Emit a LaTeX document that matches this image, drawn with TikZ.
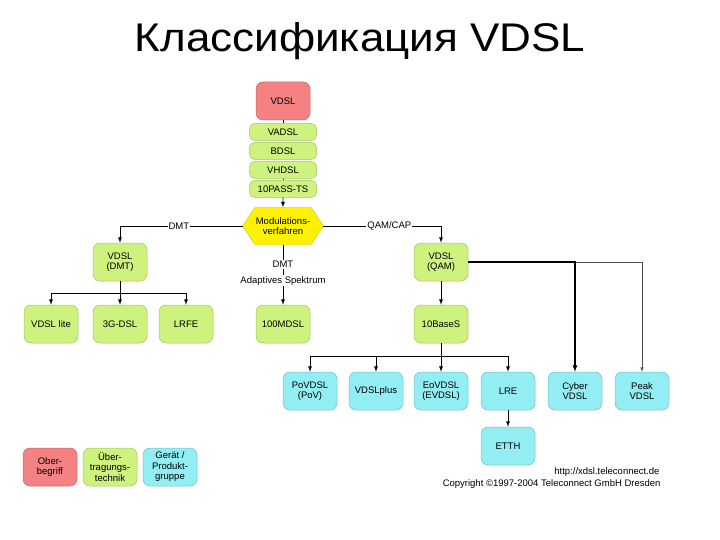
\documentclass[tikz,border=0pt]{standalone}
\usepackage{fontspec}
\setmainfont{Liberation Sans}
\usetikzlibrary{shapes.symbols}
\definecolor{rot}{HTML}{F48282}
\definecolor{gruen}{HTML}{CDF27E}
\definecolor{blau}{HTML}{92EEF3}
\definecolor{gelb}{HTML}{FFF200}

\begin{document}
\begin{tikzpicture}[x=1pt,y=-1pt,font=\fontsize{9.5}{10.5}\selectfont,
  box/.style={rounded corners=7pt,minimum width=54pt,minimum height=38pt,align=center,
    inner sep=1pt,draw=#1!80!black,fill=#1,line width=0.5pt},
  pill/.style={rounded corners=5pt,minimum width=67pt,minimum height=17pt,inner sep=1pt,
    draw=gruen!80!black,fill=gruen,line width=0.5pt},
  conn/.style={line width=0.9pt},
  lbl/.style={fill=white,inner sep=1pt}]

\useasboundingbox (0,0) rectangle (720,540);

\node[anchor=base,xscale=1.1] (titel) at (360,52) {\fontsize{40}{42}\selectfont Классификация VDSL};

\node[box=rot]   (vdsl)  at (283,101) {VDSL};
\node[pill]      (vadsl) at (283,132) {VADSL};
\node[pill]      (bdsl)  at (283,151) {BDSL};
\node[pill]      (vhdsl) at (283,170) {VHDSL};
\node[pill]      (pts)   at (283,189) {10PASS-TS};

\node[shape=signal,signal to=east and west,signal pointer angle=114,fill=gelb,draw=gelb!80!black,
  minimum width=80pt,minimum height=37pt,inner sep=1pt,align=center] (modv) at (283,226) {Modulations-\\verfahren};

\node[box=gruen] (vdmt)  at (120,262) {VDSL\\(DMT)};
\node[box=gruen] (vqam)  at (441,262) {VDSL\\(QAM)};

\node[box=gruen] (lite)  at (51,324)  {VDSL lite};
\node[box=gruen] (gdsl)  at (120,324) {3G-DSL};
\node[box=gruen] (lrfe)  at (186,324) {LRFE};
\node[box=gruen] (mdsl)  at (283,324) {100MDSL};
\node[box=gruen] (bases) at (441,324) {10BaseS};

\node[box=blau]  (povdsl) at (310,391) {PoVDSL\\(PoV)};
\node[box=blau]  (vplus)  at (376,391) {VDSLplus};
\node[box=blau]  (eovdsl) at (441,391) {EoVDSL\\(EVDSL)};
\node[box=blau]  (lre)    at (508,391) {LRE};
\node[box=blau]  (cyber)  at (575,391) {Cyber\\VDSL};
\node[box=blau]  (peak)   at (642,391) {Peak\\VDSL};
\node[box=blau]  (etth)   at (508,446) {ETTH};

\node[box=rot]   (ober)  at (50,467)  {Ober-\\begriff};
\node[box=gruen] (ueber) at (110,467) {Über-\\tragungs-\\technik};
\node[box=blau]  (geraet) at (170,467) {Gerät /\\Produkt-\\gruppe};

\node[anchor=base east] (url)  at (663,474) {http://xdsl.teleconnect.de};
\node[anchor=base east] (copy) at (664,486) {Copyright ©1997-2004 Teleconnect GmbH Dresden};

\draw[conn] (vdsl) -- (vadsl);
\draw[conn] (vhdsl) -- (pts);
\draw[conn,-latex] (pts) -- (modv);
\draw[conn,-latex] (modv.west) -| (vdmt.north) node[lbl,pos=0.26] {DMT};
\draw[conn,-latex] (modv.east) -| (vqam.north) node[lbl,pos=0.28] {QAM/CAP};
\draw[conn,-latex] (modv.south) -- (mdsl.north)
  node[lbl,pos=0.33] {DMT} node[lbl,pos=0.6] {Adaptives Spektrum};

\draw[conn] (vdmt.south) -- (120,293) coordinate (fdmt);
\draw[conn,-latex] (fdmt) -| (lite.north);
\draw[conn,-latex] (fdmt) -- (gdsl.north);
\draw[conn,-latex] (fdmt) -| (lrfe.north);

\draw[conn,-latex] (vqam) -- (bases);
\draw[conn] (bases.south) -- (441,356) coordinate (fqam);
\draw[conn,-latex] (fqam) -| (povdsl.north);
\draw[conn,-latex] (fqam) -| (vplus.north);
\draw[conn,-latex] (fqam) -- (eovdsl.north);
\draw[conn,-latex] (fqam) -| (lre.north);
\draw[line width=0.5pt,black!70,-latex] (vqam.east) -| (peak.north);
\draw[line width=1.2pt,-latex] (vqam.east) -| (cyber.north);
\draw[conn,-latex] (lre) -- (etth);
\end{tikzpicture}
\end{document}
